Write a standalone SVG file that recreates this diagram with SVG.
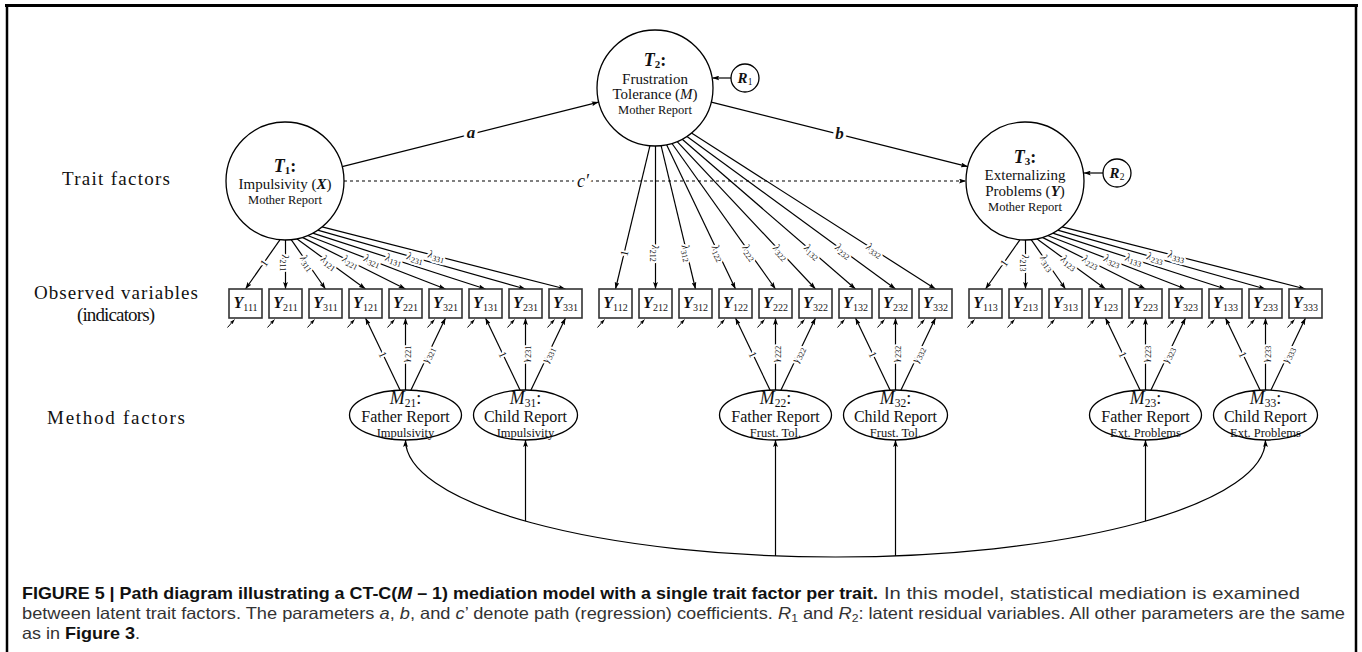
<svg xmlns="http://www.w3.org/2000/svg" width="1362" height="652" viewBox="0 0 1362 652">
  <style>
    .ln { stroke: #000; stroke-width: 1.2; fill: none; }
    .arr { stroke: #000; stroke-width: 1.2; fill: none; marker-end: url(#ah); }
    .err { stroke: #000; stroke-width: 1; fill: none; marker-end: url(#ahs); }
    .node { fill: #fff; stroke: #000; stroke-width: 1.3; }
    .box { fill: #fff; stroke: #333; stroke-width: 1.6; }
    .serif { font-family: "Liberation Serif", "DejaVu Serif", serif; fill: #111; text-anchor: middle; }
    .lbl { font-family: "Liberation Serif", "DejaVu Serif", serif; font-size: 11px; fill: #111; text-anchor: middle;
           paint-order: stroke; stroke: #fff; stroke-width: 4px; stroke-linejoin: round; }
    .lbl .s { font-size: 8px; }
    .yl { font-family: "Liberation Serif", "DejaVu Serif", serif; font-size: 16px; fill: #111; text-anchor: middle; }
    .yl .v { font-weight: bold; font-style: italic; }
    .yl .s { font-size: 10px; }
    .side { font-family: "Liberation Serif", "DejaVu Serif", serif; font-size: 19px; fill: #111; text-anchor: middle; }
    .cap { font-family: "Liberation Sans", Arial, sans-serif; font-size: 16.5px; fill: #333; }
    .capb { font-family: "Liberation Sans", Arial, sans-serif; font-size: 16.5px; fill: #111; font-weight: bold; }
  </style>
  <defs>
    <marker id="ah" viewBox="0 0 10 7" refX="10" refY="3.5" markerWidth="7" markerHeight="5" markerUnits="userSpaceOnUse" orient="auto-start-reverse">
      <path d="M0,0 L10,3.5 L0,7 L2,3.5 z" fill="#000"/>
    </marker>
    <marker id="ahs" viewBox="0 0 10 7" refX="10" refY="3.5" markerWidth="5" markerHeight="3.6" markerUnits="userSpaceOnUse" orient="auto">
      <path d="M0,0 L10,3.5 L0,7 L2,3.5 z" fill="#000"/>
    </marker>
  </defs>

  <rect width="1362" height="652" fill="#fff"/>

  <!-- frame -->
  <g id="frame" stroke="#000" fill="none">
    <line x1="5" y1="5.5" x2="1358" y2="5.5" stroke-width="3"/>
    <line x1="7" y1="5" x2="7" y2="652" stroke-width="2.5"/>
    <line x1="1356" y1="5" x2="1356" y2="652" stroke-width="2.5"/>
  </g>

  <!-- row labels -->
  <g id="row-labels">
    <text class="side" x="116" y="185" textLength="108">Trait factors</text>
    <text class="side" x="116" y="299" textLength="164">Observed variables</text>
    <text class="side" x="116" y="321" font-size="15" textLength="78">(indicators)</text>
    <text class="side" x="116" y="424" textLength="138">Method factors</text>
  </g>

  <!-- connectors -->
  <g id="connectors">
    <!-- structural paths -->
    <line class="arr" x1="342.2" y1="166.6" x2="598.7" y2="102.1"/>
    <line class="arr" x1="711.3" y1="102.1" x2="967.8" y2="166.6"/>
    <line class="arr" x1="344" y1="181" x2="966" y2="181" stroke-dasharray="3 3"/>
    <line class="arr" x1="731" y1="78" x2="712.3" y2="78"/>
    <line class="arr" x1="1103" y1="173" x2="1083.8" y2="173"/>
    <text class="serif" x="471" y="138" font-size="17" font-weight="bold" font-style="italic" paint-order="stroke" stroke="#fff" stroke-width="6">a</text>
    <text class="serif" x="839.5" y="139" font-size="17" font-weight="bold" font-style="italic" paint-order="stroke" stroke="#fff" stroke-width="6">b</text>
    <text class="serif" x="583" y="187" font-size="18" font-style="italic" paint-order="stroke" stroke="#fff" stroke-width="8">c′</text>

    <!-- loadings of T1 -->
    <line class="arr" x1="279.9" y1="239.8" x2="245.5" y2="289"/>
    <line class="arr" x1="285.5" y1="240" x2="285.5" y2="289"/>
    <line class="arr" x1="291.2" y1="239.7" x2="325.5" y2="289"/>
    <line class="arr" x1="296.8" y1="238.8" x2="365.5" y2="289"/>
    <line class="arr" x1="302.3" y1="237.4" x2="405.5" y2="289"/>
    <line class="arr" x1="307.6" y1="235.5" x2="445.5" y2="289"/>
    <line class="arr" x1="312.7" y1="233.1" x2="485.5" y2="289"/>
    <line class="arr" x1="317.6" y1="230.2" x2="525.5" y2="289"/>
    <line class="arr" x1="322.1" y1="226.8" x2="565.5" y2="289"/>
    <text class="lbl" transform="translate(263.7,262.9) rotate(-55)" dy="4">1</text>
    <text class="lbl" transform="translate(285.5,263) rotate(90)" dy="3.5"><tspan font-style="italic">λ</tspan><tspan class="s" dy="2">211</tspan></text>
    <text class="lbl" transform="translate(307.3,262.9) rotate(55.2)" dy="3.5"><tspan font-style="italic">λ</tspan><tspan class="s" dy="2">311</tspan></text>
    <text class="lbl" transform="translate(329.1,262.4) rotate(36.2)" dy="3.5"><tspan font-style="italic">λ</tspan><tspan class="s" dy="2">121</tspan></text>
    <text class="lbl" transform="translate(350.8,261.7) rotate(26.6)" dy="3.5"><tspan font-style="italic">λ</tspan><tspan class="s" dy="2">221</tspan></text>
    <text class="lbl" transform="translate(372.4,260.6) rotate(21.2)" dy="3.5"><tspan font-style="italic">λ</tspan><tspan class="s" dy="2">321</tspan></text>
    <text class="lbl" transform="translate(393.9,259.4) rotate(17.9)" dy="3.5"><tspan font-style="italic">λ</tspan><tspan class="s" dy="2">131</tspan></text>
    <text class="lbl" transform="translate(415.3,257.8) rotate(15.8)" dy="3.5"><tspan font-style="italic">λ</tspan><tspan class="s" dy="2">231</tspan></text>
    <text class="lbl" transform="translate(436.5,256) rotate(14.3)" dy="3.5"><tspan font-style="italic">λ</tspan><tspan class="s" dy="2">331</tspan></text>

    <!-- loadings of T2 -->
    <line class="arr" x1="649.9" y1="145.8" x2="615.5" y2="289"/>
    <line class="arr" x1="655.5" y1="146" x2="655.5" y2="289"/>
    <line class="arr" x1="661.1" y1="145.7" x2="695.5" y2="289"/>
    <line class="arr" x1="666.6" y1="144.8" x2="735.5" y2="289"/>
    <line class="arr" x1="672" y1="143.5" x2="775.5" y2="289"/>
    <line class="arr" x1="677.2" y1="141.6" x2="815.5" y2="289"/>
    <line class="arr" x1="682.2" y1="139.2" x2="855.5" y2="289"/>
    <line class="arr" x1="687" y1="136.4" x2="895.5" y2="289"/>
    <line class="arr" x1="691.5" y1="133.1" x2="935.5" y2="289"/>
    <text class="lbl" transform="translate(624.1,253.2) rotate(-76.5)" dy="4">1</text>
    <text class="lbl" transform="translate(655.5,253.3) rotate(90)" dy="3.5"><tspan font-style="italic">λ</tspan><tspan class="s" dy="2">212</tspan></text>
    <text class="lbl" transform="translate(686.9,253.2) rotate(76.5)" dy="3.5"><tspan font-style="italic">λ</tspan><tspan class="s" dy="2">312</tspan></text>
    <text class="lbl" transform="translate(718.3,253) rotate(64.5)" dy="3.5"><tspan font-style="italic">λ</tspan><tspan class="s" dy="2">122</tspan></text>
    <text class="lbl" transform="translate(749.6,252.6) rotate(54.6)" dy="3.5"><tspan font-style="italic">λ</tspan><tspan class="s" dy="2">222</tspan></text>
    <text class="lbl" transform="translate(780.9,252.2) rotate(46.8)" dy="3.5"><tspan font-style="italic">λ</tspan><tspan class="s" dy="2">322</tspan></text>
    <text class="lbl" transform="translate(812.2,251.6) rotate(40.8)" dy="3.5"><tspan font-style="italic">λ</tspan><tspan class="s" dy="2">132</tspan></text>
    <text class="lbl" transform="translate(843.4,250.9) rotate(36.2)" dy="3.5"><tspan font-style="italic">λ</tspan><tspan class="s" dy="2">232</tspan></text>
    <text class="lbl" transform="translate(874.5,250) rotate(32.6)" dy="3.5"><tspan font-style="italic">λ</tspan><tspan class="s" dy="2">332</tspan></text>

    <!-- loadings of T3 -->
    <line class="arr" x1="1019.9" y1="239.8" x2="985.5" y2="289"/>
    <line class="arr" x1="1025.5" y1="240" x2="1025.5" y2="289"/>
    <line class="arr" x1="1031.2" y1="239.7" x2="1065.5" y2="289"/>
    <line class="arr" x1="1036.8" y1="238.8" x2="1105.5" y2="289"/>
    <line class="arr" x1="1042.3" y1="237.4" x2="1145.5" y2="289"/>
    <line class="arr" x1="1047.6" y1="235.5" x2="1185.5" y2="289"/>
    <line class="arr" x1="1052.7" y1="233.1" x2="1225.5" y2="289"/>
    <line class="arr" x1="1057.6" y1="230.2" x2="1265.5" y2="289"/>
    <line class="arr" x1="1062.1" y1="226.8" x2="1305.5" y2="289"/>
    <text class="lbl" transform="translate(1003.7,262.9) rotate(-55)" dy="4">1</text>
    <text class="lbl" transform="translate(1025.5,263) rotate(90)" dy="3.5"><tspan font-style="italic">λ</tspan><tspan class="s" dy="2">213</tspan></text>
    <text class="lbl" transform="translate(1047.3,262.9) rotate(55.2)" dy="3.5"><tspan font-style="italic">λ</tspan><tspan class="s" dy="2">313</tspan></text>
    <text class="lbl" transform="translate(1069.1,262.4) rotate(36.2)" dy="3.5"><tspan font-style="italic">λ</tspan><tspan class="s" dy="2">123</tspan></text>
    <text class="lbl" transform="translate(1090.8,261.7) rotate(26.6)" dy="3.5"><tspan font-style="italic">λ</tspan><tspan class="s" dy="2">223</tspan></text>
    <text class="lbl" transform="translate(1112.4,260.6) rotate(21.2)" dy="3.5"><tspan font-style="italic">λ</tspan><tspan class="s" dy="2">323</tspan></text>
    <text class="lbl" transform="translate(1133.9,259.4) rotate(17.9)" dy="3.5"><tspan font-style="italic">λ</tspan><tspan class="s" dy="2">133</tspan></text>
    <text class="lbl" transform="translate(1155.3,257.8) rotate(15.8)" dy="3.5"><tspan font-style="italic">λ</tspan><tspan class="s" dy="2">233</tspan></text>
    <text class="lbl" transform="translate(1176.5,256) rotate(14.3)" dy="3.5"><tspan font-style="italic">λ</tspan><tspan class="s" dy="2">333</tspan></text>

    <!-- method factor loadings -->
    <line class="arr" x1="400.5" y1="391" x2="365.5" y2="318"/>
    <line class="arr" x1="405.5" y1="390" x2="405.5" y2="318"/>
    <line class="arr" x1="410.5" y1="391" x2="445.5" y2="318"/>
    <line class="arr" x1="520.5" y1="391" x2="485.5" y2="318"/>
    <line class="arr" x1="525.5" y1="390" x2="525.5" y2="318"/>
    <line class="arr" x1="530.5" y1="391" x2="565.5" y2="318"/>
    <line class="arr" x1="770.5" y1="391" x2="735.5" y2="318"/>
    <line class="arr" x1="775.5" y1="390" x2="775.5" y2="318"/>
    <line class="arr" x1="780.5" y1="391" x2="815.5" y2="318"/>
    <line class="arr" x1="890.5" y1="391" x2="855.5" y2="318"/>
    <line class="arr" x1="895.5" y1="390" x2="895.5" y2="318"/>
    <line class="arr" x1="900.5" y1="391" x2="935.5" y2="318"/>
    <line class="arr" x1="1140.5" y1="391" x2="1105.5" y2="318"/>
    <line class="arr" x1="1145.5" y1="390" x2="1145.5" y2="318"/>
    <line class="arr" x1="1150.5" y1="391" x2="1185.5" y2="318"/>
    <line class="arr" x1="1260.5" y1="391" x2="1225.5" y2="318"/>
    <line class="arr" x1="1265.5" y1="390" x2="1265.5" y2="318"/>
    <line class="arr" x1="1270.5" y1="391" x2="1305.5" y2="318"/>

    <text class="lbl" transform="translate(383,354.5) rotate(64.4)" dy="4">1</text>
    <text class="lbl" transform="translate(405.5,354) rotate(-90)" dy="3.5"><tspan font-style="italic">γ</tspan><tspan class="s" dy="2">221</tspan></text>
    <text class="lbl" transform="translate(428,354.5) rotate(-64.4)" dy="3.5"><tspan font-style="italic">γ</tspan><tspan class="s" dy="2">321</tspan></text>
    <text class="lbl" transform="translate(503,354.5) rotate(64.4)" dy="4">1</text>
    <text class="lbl" transform="translate(525.5,354) rotate(-90)" dy="3.5"><tspan font-style="italic">γ</tspan><tspan class="s" dy="2">231</tspan></text>
    <text class="lbl" transform="translate(548,354.5) rotate(-64.4)" dy="3.5"><tspan font-style="italic">γ</tspan><tspan class="s" dy="2">331</tspan></text>
    <text class="lbl" transform="translate(753,354.5) rotate(64.4)" dy="4">1</text>
    <text class="lbl" transform="translate(775.5,354) rotate(-90)" dy="3.5"><tspan font-style="italic">γ</tspan><tspan class="s" dy="2">222</tspan></text>
    <text class="lbl" transform="translate(798,354.5) rotate(-64.4)" dy="3.5"><tspan font-style="italic">γ</tspan><tspan class="s" dy="2">322</tspan></text>
    <text class="lbl" transform="translate(873,354.5) rotate(64.4)" dy="4">1</text>
    <text class="lbl" transform="translate(895.5,354) rotate(-90)" dy="3.5"><tspan font-style="italic">γ</tspan><tspan class="s" dy="2">232</tspan></text>
    <text class="lbl" transform="translate(918,354.5) rotate(-64.4)" dy="3.5"><tspan font-style="italic">γ</tspan><tspan class="s" dy="2">332</tspan></text>
    <text class="lbl" transform="translate(1123,354.5) rotate(64.4)" dy="4">1</text>
    <text class="lbl" transform="translate(1145.5,354) rotate(-90)" dy="3.5"><tspan font-style="italic">γ</tspan><tspan class="s" dy="2">223</tspan></text>
    <text class="lbl" transform="translate(1168,354.5) rotate(-64.4)" dy="3.5"><tspan font-style="italic">γ</tspan><tspan class="s" dy="2">323</tspan></text>
    <text class="lbl" transform="translate(1243,354.5) rotate(64.4)" dy="4">1</text>
    <text class="lbl" transform="translate(1265.5,354) rotate(-90)" dy="3.5"><tspan font-style="italic">γ</tspan><tspan class="s" dy="2">233</tspan></text>
    <text class="lbl" transform="translate(1288,354.5) rotate(-64.4)" dy="3.5"><tspan font-style="italic">γ</tspan><tspan class="s" dy="2">333</tspan></text>

    <!-- residual arrows on the indicators -->
    <g class="err-set">
      <line class="err" x1="227.5" y1="327.5" x2="234.5" y2="319.5"/>
      <line class="err" x1="267.5" y1="327.5" x2="274.5" y2="319.5"/>
      <line class="err" x1="307.5" y1="327.5" x2="314.5" y2="319.5"/>
      <line class="err" x1="347.5" y1="327.5" x2="354.5" y2="319.5"/>
      <line class="err" x1="387.5" y1="327.5" x2="394.5" y2="319.5"/>
      <line class="err" x1="427.5" y1="327.5" x2="434.5" y2="319.5"/>
      <line class="err" x1="467.5" y1="327.5" x2="474.5" y2="319.5"/>
      <line class="err" x1="507.5" y1="327.5" x2="514.5" y2="319.5"/>
      <line class="err" x1="547.5" y1="327.5" x2="554.5" y2="319.5"/>
      <line class="err" x1="597.5" y1="327.5" x2="604.5" y2="319.5"/>
      <line class="err" x1="637.5" y1="327.5" x2="644.5" y2="319.5"/>
      <line class="err" x1="677.5" y1="327.5" x2="684.5" y2="319.5"/>
      <line class="err" x1="717.5" y1="327.5" x2="724.5" y2="319.5"/>
      <line class="err" x1="757.5" y1="327.5" x2="764.5" y2="319.5"/>
      <line class="err" x1="797.5" y1="327.5" x2="804.5" y2="319.5"/>
      <line class="err" x1="837.5" y1="327.5" x2="844.5" y2="319.5"/>
      <line class="err" x1="877.5" y1="327.5" x2="884.5" y2="319.5"/>
      <line class="err" x1="917.5" y1="327.5" x2="924.5" y2="319.5"/>
      <line class="err" x1="967.5" y1="327.5" x2="974.5" y2="319.5"/>
      <line class="err" x1="1007.5" y1="327.5" x2="1014.5" y2="319.5"/>
      <line class="err" x1="1047.5" y1="327.5" x2="1054.5" y2="319.5"/>
      <line class="err" x1="1087.5" y1="327.5" x2="1094.5" y2="319.5"/>
      <line class="err" x1="1127.5" y1="327.5" x2="1134.5" y2="319.5"/>
      <line class="err" x1="1167.5" y1="327.5" x2="1174.5" y2="319.5"/>
      <line class="err" x1="1207.5" y1="327.5" x2="1214.5" y2="319.5"/>
      <line class="err" x1="1247.5" y1="327.5" x2="1254.5" y2="319.5"/>
      <line class="err" x1="1287.5" y1="327.5" x2="1294.5" y2="319.5"/>
    </g>

    <!-- correlations among method factors -->
    <path class="ln" d="M405.5,440 A430,117 0 0 0 1265.5,440" marker-start="url(#ah)" marker-end="url(#ah)"/>
    <line class="arr" x1="525.5" y1="521.1" x2="525.5" y2="440"/>
    <line class="arr" x1="775.5" y1="555.9" x2="775.5" y2="440"/>
    <line class="arr" x1="895.5" y1="555.9" x2="895.5" y2="440"/>
    <line class="arr" x1="1145.5" y1="521.1" x2="1145.5" y2="440"/>
  </g>

  <!-- trait factors -->
  <g id="T1">
    <circle class="node" cx="285" cy="181" r="59"/>
    <text class="serif" x="285" y="172" font-size="18"><tspan font-weight="bold" font-style="italic">T</tspan><tspan font-size="11" font-weight="bold" dy="2">1</tspan><tspan font-weight="bold" dy="-2">:</tspan></text>
    <text class="serif" x="285" y="189" font-size="15">Impulsivity (<tspan font-weight="bold" font-style="italic">X</tspan>)</text>
    <text class="serif" x="285" y="204" font-size="12.5">Mother Report</text>
  </g>
  <g id="T2">
    <circle class="node" cx="655" cy="88" r="58"/>
    <text class="serif" x="655" y="66" font-size="18"><tspan font-weight="bold" font-style="italic">T</tspan><tspan font-size="11" font-weight="bold" dy="2">2</tspan><tspan font-weight="bold" dy="-2">:</tspan></text>
    <text class="serif" x="655" y="84" font-size="15">Frustration</text>
    <text class="serif" x="655" y="99" font-size="15">Tolerance (<tspan font-style="italic">M</tspan>)</text>
    <text class="serif" x="655" y="114" font-size="12.5">Mother Report</text>
  </g>
  <g id="T3">
    <circle class="node" cx="1025" cy="181" r="59"/>
    <text class="serif" x="1025" y="163" font-size="18"><tspan font-weight="bold" font-style="italic">T</tspan><tspan font-size="11" font-weight="bold" dy="2">3</tspan><tspan font-weight="bold" dy="-2">:</tspan></text>
    <text class="serif" x="1025" y="180" font-size="15">Externalizing</text>
    <text class="serif" x="1025" y="196" font-size="15">Problems (<tspan font-weight="bold" font-style="italic">Y</tspan>)</text>
    <text class="serif" x="1025" y="211" font-size="12.5">Mother Report</text>
  </g>

  <!-- latent residuals -->
  <g id="R1">
    <circle class="node" cx="745" cy="78" r="14"/>
    <text class="serif" x="745" y="83" font-size="15"><tspan font-weight="bold" font-style="italic">R</tspan><tspan font-size="9.5" dy="2">1</tspan></text>
  </g>
  <g id="R2">
    <circle class="node" cx="1117" cy="173" r="14"/>
    <text class="serif" x="1117" y="178" font-size="15"><tspan font-weight="bold" font-style="italic">R</tspan><tspan font-size="9.5" dy="2">2</tspan></text>
  </g>

  <!-- observed variables -->
  <g id="Y111"><rect class="box" x="229" y="289" width="33" height="29"/><text class="yl" x="245.5" y="308"><tspan class="v">Y</tspan><tspan class="s" dy="3">111</tspan></text></g>
  <g id="Y211"><rect class="box" x="269" y="289" width="33" height="29"/><text class="yl" x="285.5" y="308"><tspan class="v">Y</tspan><tspan class="s" dy="3">211</tspan></text></g>
  <g id="Y311"><rect class="box" x="309" y="289" width="33" height="29"/><text class="yl" x="325.5" y="308"><tspan class="v">Y</tspan><tspan class="s" dy="3">311</tspan></text></g>
  <g id="Y121"><rect class="box" x="349" y="289" width="33" height="29"/><text class="yl" x="365.5" y="308"><tspan class="v">Y</tspan><tspan class="s" dy="3">121</tspan></text></g>
  <g id="Y221"><rect class="box" x="389" y="289" width="33" height="29"/><text class="yl" x="405.5" y="308"><tspan class="v">Y</tspan><tspan class="s" dy="3">221</tspan></text></g>
  <g id="Y321"><rect class="box" x="429" y="289" width="33" height="29"/><text class="yl" x="445.5" y="308"><tspan class="v">Y</tspan><tspan class="s" dy="3">321</tspan></text></g>
  <g id="Y131"><rect class="box" x="469" y="289" width="33" height="29"/><text class="yl" x="485.5" y="308"><tspan class="v">Y</tspan><tspan class="s" dy="3">131</tspan></text></g>
  <g id="Y231"><rect class="box" x="509" y="289" width="33" height="29"/><text class="yl" x="525.5" y="308"><tspan class="v">Y</tspan><tspan class="s" dy="3">231</tspan></text></g>
  <g id="Y331"><rect class="box" x="549" y="289" width="33" height="29"/><text class="yl" x="565.5" y="308"><tspan class="v">Y</tspan><tspan class="s" dy="3">331</tspan></text></g>

  <g id="Y112"><rect class="box" x="599" y="289" width="33" height="29"/><text class="yl" x="615.5" y="308"><tspan class="v">Y</tspan><tspan class="s" dy="3">112</tspan></text></g>
  <g id="Y212"><rect class="box" x="639" y="289" width="33" height="29"/><text class="yl" x="655.5" y="308"><tspan class="v">Y</tspan><tspan class="s" dy="3">212</tspan></text></g>
  <g id="Y312"><rect class="box" x="679" y="289" width="33" height="29"/><text class="yl" x="695.5" y="308"><tspan class="v">Y</tspan><tspan class="s" dy="3">312</tspan></text></g>
  <g id="Y122"><rect class="box" x="719" y="289" width="33" height="29"/><text class="yl" x="735.5" y="308"><tspan class="v">Y</tspan><tspan class="s" dy="3">122</tspan></text></g>
  <g id="Y222"><rect class="box" x="759" y="289" width="33" height="29"/><text class="yl" x="775.5" y="308"><tspan class="v">Y</tspan><tspan class="s" dy="3">222</tspan></text></g>
  <g id="Y322"><rect class="box" x="799" y="289" width="33" height="29"/><text class="yl" x="815.5" y="308"><tspan class="v">Y</tspan><tspan class="s" dy="3">322</tspan></text></g>
  <g id="Y132"><rect class="box" x="839" y="289" width="33" height="29"/><text class="yl" x="855.5" y="308"><tspan class="v">Y</tspan><tspan class="s" dy="3">132</tspan></text></g>
  <g id="Y232"><rect class="box" x="879" y="289" width="33" height="29"/><text class="yl" x="895.5" y="308"><tspan class="v">Y</tspan><tspan class="s" dy="3">232</tspan></text></g>
  <g id="Y332"><rect class="box" x="919" y="289" width="33" height="29"/><text class="yl" x="935.5" y="308"><tspan class="v">Y</tspan><tspan class="s" dy="3">332</tspan></text></g>

  <g id="Y113"><rect class="box" x="969" y="289" width="33" height="29"/><text class="yl" x="985.5" y="308"><tspan class="v">Y</tspan><tspan class="s" dy="3">113</tspan></text></g>
  <g id="Y213"><rect class="box" x="1009" y="289" width="33" height="29"/><text class="yl" x="1025.5" y="308"><tspan class="v">Y</tspan><tspan class="s" dy="3">213</tspan></text></g>
  <g id="Y313"><rect class="box" x="1049" y="289" width="33" height="29"/><text class="yl" x="1065.5" y="308"><tspan class="v">Y</tspan><tspan class="s" dy="3">313</tspan></text></g>
  <g id="Y123"><rect class="box" x="1089" y="289" width="33" height="29"/><text class="yl" x="1105.5" y="308"><tspan class="v">Y</tspan><tspan class="s" dy="3">123</tspan></text></g>
  <g id="Y223"><rect class="box" x="1129" y="289" width="33" height="29"/><text class="yl" x="1145.5" y="308"><tspan class="v">Y</tspan><tspan class="s" dy="3">223</tspan></text></g>
  <g id="Y323"><rect class="box" x="1169" y="289" width="33" height="29"/><text class="yl" x="1185.5" y="308"><tspan class="v">Y</tspan><tspan class="s" dy="3">323</tspan></text></g>
  <g id="Y133"><rect class="box" x="1209" y="289" width="33" height="29"/><text class="yl" x="1225.5" y="308"><tspan class="v">Y</tspan><tspan class="s" dy="3">133</tspan></text></g>
  <g id="Y233"><rect class="box" x="1249" y="289" width="33" height="29"/><text class="yl" x="1265.5" y="308"><tspan class="v">Y</tspan><tspan class="s" dy="3">233</tspan></text></g>
  <g id="Y333"><rect class="box" x="1289" y="289" width="33" height="29"/><text class="yl" x="1305.5" y="308"><tspan class="v">Y</tspan><tspan class="s" dy="3">333</tspan></text></g>

  <!-- method factors -->
  <g id="M21">
    <ellipse class="node" cx="405.5" cy="415" rx="56" ry="25"/>
    <text class="serif" x="405.5" y="404" font-size="18"><tspan font-style="italic">M</tspan><tspan font-size="11.5" dy="3">21</tspan><tspan dy="-3">:</tspan></text>
    <text class="serif" x="405.5" y="422" font-size="16">Father Report</text>
    <text class="serif" x="405.5" y="437" font-size="12.5">Impulsivity</text>
  </g>
  <g id="M31">
    <ellipse class="node" cx="525.5" cy="415" rx="52" ry="25"/>
    <text class="serif" x="525.5" y="404" font-size="18"><tspan font-style="italic">M</tspan><tspan font-size="11.5" dy="3">31</tspan><tspan dy="-3">:</tspan></text>
    <text class="serif" x="525.5" y="422" font-size="16">Child Report</text>
    <text class="serif" x="525.5" y="437" font-size="12.5">Impulsivity</text>
  </g>
  <g id="M22">
    <ellipse class="node" cx="775.5" cy="415" rx="56" ry="25"/>
    <text class="serif" x="775.5" y="404" font-size="18"><tspan font-style="italic">M</tspan><tspan font-size="11.5" dy="3">22</tspan><tspan dy="-3">:</tspan></text>
    <text class="serif" x="775.5" y="422" font-size="16">Father Report</text>
    <text class="serif" x="775.5" y="437" font-size="12.5">Frust. Tol.</text>
  </g>
  <g id="M32">
    <ellipse class="node" cx="895.5" cy="415" rx="52" ry="25"/>
    <text class="serif" x="895.5" y="404" font-size="18"><tspan font-style="italic">M</tspan><tspan font-size="11.5" dy="3">32</tspan><tspan dy="-3">:</tspan></text>
    <text class="serif" x="895.5" y="422" font-size="16">Child Report</text>
    <text class="serif" x="895.5" y="437" font-size="12.5">Frust. Tol.</text>
  </g>
  <g id="M23">
    <ellipse class="node" cx="1145.5" cy="415" rx="56" ry="25"/>
    <text class="serif" x="1145.5" y="404" font-size="18"><tspan font-style="italic">M</tspan><tspan font-size="11.5" dy="3">23</tspan><tspan dy="-3">:</tspan></text>
    <text class="serif" x="1145.5" y="422" font-size="16">Father Report</text>
    <text class="serif" x="1145.5" y="437" font-size="12.5">Ext. Problems</text>
  </g>
  <g id="M33">
    <ellipse class="node" cx="1265.5" cy="415" rx="52" ry="25"/>
    <text class="serif" x="1265.5" y="404" font-size="18"><tspan font-style="italic">M</tspan><tspan font-size="11.5" dy="3">33</tspan><tspan dy="-3">:</tspan></text>
    <text class="serif" x="1265.5" y="422" font-size="16">Child Report</text>
    <text class="serif" x="1265.5" y="437" font-size="12.5">Ext. Problems</text>
  </g>

  <!-- caption -->
  <g id="caption">
    <text class="capb" x="22" y="599" textLength="856" lengthAdjust="spacingAndGlyphs">FIGURE 5 | Path diagram illustrating a CT-C(<tspan font-style="italic">M</tspan> – 1) mediation model with a single trait factor per trait.</text>
    <text class="cap" x="884" y="599" textLength="416" lengthAdjust="spacingAndGlyphs">In this model, statistical mediation is examined</text>
    <text class="cap" x="22" y="619" textLength="1323" lengthAdjust="spacingAndGlyphs">between latent trait factors. The parameters <tspan font-style="italic">a</tspan>, <tspan font-style="italic">b</tspan>, and <tspan font-style="italic">c</tspan>’ denote path (regression) coefficients. <tspan font-style="italic">R</tspan><tspan font-size="11" dy="3">1</tspan><tspan dy="-3"> and </tspan><tspan font-style="italic">R</tspan><tspan font-size="11" dy="3">2</tspan><tspan dy="-3">: latent residual variables. All other parameters are the same</tspan></text>
    <text class="cap" x="22" y="639" textLength="118" lengthAdjust="spacingAndGlyphs">as in <tspan font-weight="bold" fill="#111">Figure 3</tspan>.</text>
  </g>
</svg>
